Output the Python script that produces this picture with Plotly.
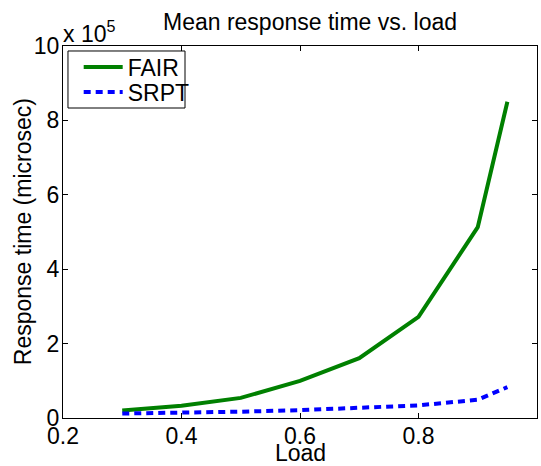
import plotly.graph_objects as go

load = [0.3, 0.4, 0.5, 0.6, 0.7, 0.8, 0.9, 0.95]
fair = [0.20e5, 0.33e5, 0.54e5, 1.00e5, 1.61e5, 2.72e5, 5.13e5, 8.50e5]
srpt = [0.12e5, 0.14e5, 0.17e5, 0.21e5, 0.27e5, 0.34e5, 0.49e5, 0.83e5]

xticks = [0.2, 0.4, 0.6, 0.8, 1.0]
xticklabels = ["0.2", "0.4", "0.6", "0.8", "1"]
yticks = [0, 2e5, 4e5, 6e5, 8e5, 10e5]
yticklabels = ["0", "2", "4", "6", "8", "10"]

FONT = "Liberation Sans, Arial, sans-serif"
FS = 23

fig = go.Figure()
fig.add_trace(go.Scatter(x=load, y=fair, mode="lines", name="FAIR", legend="legend",
                         line=dict(color="#008000", width=4)))
fig.add_trace(go.Scatter(x=load, y=srpt, mode="lines", name="SRPT", legend="legend2",
                         line=dict(color="#0000ff", width=4, dash="7px,5px")))

axis_common = dict(showgrid=False, zeroline=False, showline=True, linecolor="black",
                   linewidth=1, mirror="ticks", ticks="inside", ticklen=5,
                   tickcolor="black", automargin=False,
                   tickfont=dict(size=FS, color="black", family=FONT))

leg_common = dict(xanchor="left", yanchor="middle", bgcolor="rgba(0,0,0,0)",
                  borderwidth=0, font=dict(size=FS, family=FONT, color="black"),
                  itemwidth=39)

fig.update_layout(
    width=541, height=466,
    margin=dict(l=63, r=4, t=46, b=48),
    paper_bgcolor="white", plot_bgcolor="white",
    font=dict(family=FONT, size=FS, color="black"),
    title=dict(text="Mean response time vs. load", x=0.573, xanchor="center",
               y=0.952, yanchor="middle", font=dict(size=FS, color="black")),
    xaxis=dict(range=[0.2, 1.0], tickvals=xticks, ticktext=xticklabels,
               ticklabelstandoff=-3, **axis_common),
    yaxis=dict(range=[0, 10e5], tickvals=yticks, ticktext=yticklabels,
               ticklabelstandoff=-2, **axis_common),
    legend=dict(x=0.0331, y=0.9435, **leg_common),
    legend2=dict(x=0.0331, y=0.876, **leg_common),
    showlegend=True,
)

# legend frame
fig.add_shape(type="rect", xref="paper", yref="paper", x0=0.0105, x1=0.2574,
              y0=0.8333, y1=0.9866, line=dict(color="black", width=1),
              fillcolor="white", layer="below")

fig.add_annotation(xref="paper", yref="paper", x=0.0, y=1.0, xanchor="left",
                   yanchor="bottom", text="x 10<sup>5</sup>", showarrow=False,
                   font=dict(size=FS, family=FONT, color="black"), xshift=-2, yshift=-3)

fig.add_annotation(xref="paper", yref="paper", x=-0.084, y=0.5, xanchor="center",
                   yanchor="middle", text="Response time (microsec)", textangle=-90,
                   showarrow=False, font=dict(size=FS, family=FONT, color="black"))

fig.add_annotation(xref="paper", yref="paper", x=0.5, y=-0.094, xanchor="center",
                   yanchor="middle", text="Load", showarrow=False,
                   font=dict(size=FS, family=FONT, color="black"))

fig.write_html("out.html")
